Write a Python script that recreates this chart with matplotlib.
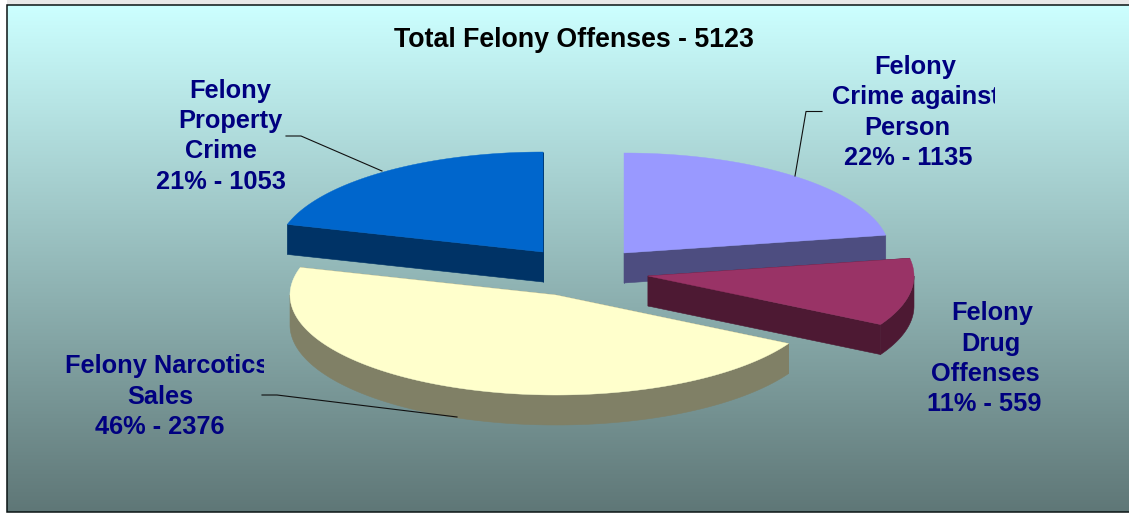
import numpy as np
import matplotlib
matplotlib.use("Agg")
import matplotlib.pyplot as plt
from matplotlib.patches import Polygon, Rectangle

plt.rcParams['font.family'] = ['Liberation Sans', 'DejaVu Sans']

title = "Total Felony Offenses - 5123"
categories = ["Felony Crime against Person", "Felony Drug Offenses",
              "Felony Narcotics Sales", "Felony Property Crime"]
values = [1135, 559, 2376, 1053]
top_colors = ["#9999FF", "#993366", "#FFFFCC", "#0066CC"]
wall_colors = ["#4D4D80", "#4D1933", "#808066", "#003366"]
apexes = [(624, 253), (648, 276), (556, 295), (543, 252)]
draw_order = [3, 0, 2, 1]
label_lines = [
    [("Felony", 915, 74), ("Crime against", 916, 104), ("Person", 907, 135), ("22% - 1135", 908, 165)],
    [("Felony", 992, 320), ("Drug", 991, 351), ("Offenses", 985, 381), ("11% - 559", 984, 411)],
    [("Felony Narcotics", 167, 373), ("Sales", 160.5, 404), ("46% - 2376", 159.5, 434)],
    [("Felony", 230, 98), ("Property", 230, 128), ("Crime", 220.5, 158), ("21% - 1053", 221, 189)],
]
label_clip = [995, None, 264, None]
leaders = [
    [(822, 111.5), (806, 111.5), (795, 176)],
    None,
    [(262, 395), (277, 395), (457, 417)],
    [(286, 136), (301, 136), (382, 171)],
]
RX, RY, DEPTH = 266, 100, 30

fig = plt.figure(figsize=(11.29, 5.13), dpi=100, facecolor="white")
ax = fig.add_axes([0, 0, 1, 1])
ax.axis("off")

# background gradient inside the frame, running off the right edge
stops = np.array([[0xCC, 0xFF, 0xFF], [0x5F, 0x77, 0x77]]) / 255
t = np.linspace(0, 1, 256)[:, None]
grad = (stops[0] * (1 - t) + stops[1] * t)[:, None, :]
ax.imshow(grad, extent=(7, 1129, 512, 5), aspect="auto", zorder=0, interpolation="bilinear")
ax.set_xlim(0, 1129)
ax.set_ylim(513, 0)
ax.add_patch(Rectangle((7, 0), 1122, 5, fc="#E8E8E8", ec="none", zorder=0.5))
ax.plot([1129, 7, 7, 1129], [5, 5, 512, 512], color="#0A1414", lw=1.1, zorder=1,
        solid_joinstyle="miter")


def pt(apex, deg):
    a = np.radians(deg)
    return apex[0] + RX * np.sin(a), apex[1] - RY * np.cos(a)


def arc(apex, d0, d1):
    deg = np.linspace(d0, d1, max(int(abs(d1 - d0)) * 2, 2))
    x, y = pt(apex, deg)
    return np.column_stack([x, y])


edges = np.concatenate([[0], np.cumsum(values)]) / sum(values) * 360
z = 2
for i in draw_order:
    d0, d1 = edges[i], edges[i + 1]
    apex = np.array(apexes[i], float)
    down = np.array([0, DEPTH])
    for d in (d0, d1):
        p = np.array(pt(apex, d))
        ax.add_patch(Polygon([apex, p, p + down, apex + down], fc=wall_colors[i],
                             ec=wall_colors[i], lw=0.4, zorder=z))
    w0, w1 = max(d0, 90), min(d1, 270)
    if w1 > w0:
        a = arc(apex, w0, w1)
        ax.add_patch(Polygon(np.vstack([a, (a + down)[::-1]]), fc=wall_colors[i],
                             ec=wall_colors[i], lw=0.4, zorder=z))
    ax.add_patch(Polygon(np.vstack([apex, arc(apex, d0, d1)]), fc=top_colors[i],
                         ec=top_colors[i], lw=0.3, zorder=z + 0.5))
    z += 1

for pts in leaders:
    if pts:
        xs, ys = zip(*pts)
        ax.plot(xs, ys, color="#101010", lw=0.8, zorder=20)

ax.text(573.5, 47, title, ha="center", va="baseline", fontsize=19.3, fontweight="bold",
        color="black", zorder=30)
for lines, clip in zip(label_lines, label_clip):
    for s, x, y in lines:
        txt = ax.text(x, y, s, ha="center", va="baseline", fontsize=18.3, fontweight="bold",
                      color="#000080", zorder=30)
        if clip is not None:
            x0 = 0 if clip < 500 else 500
            txt.set_clip_path(Rectangle((x0, 0), clip - x0, 513, transform=ax.transData))
            txt.set_clip_on(True)

fig.savefig("out.png", dpi=100, facecolor="white")
